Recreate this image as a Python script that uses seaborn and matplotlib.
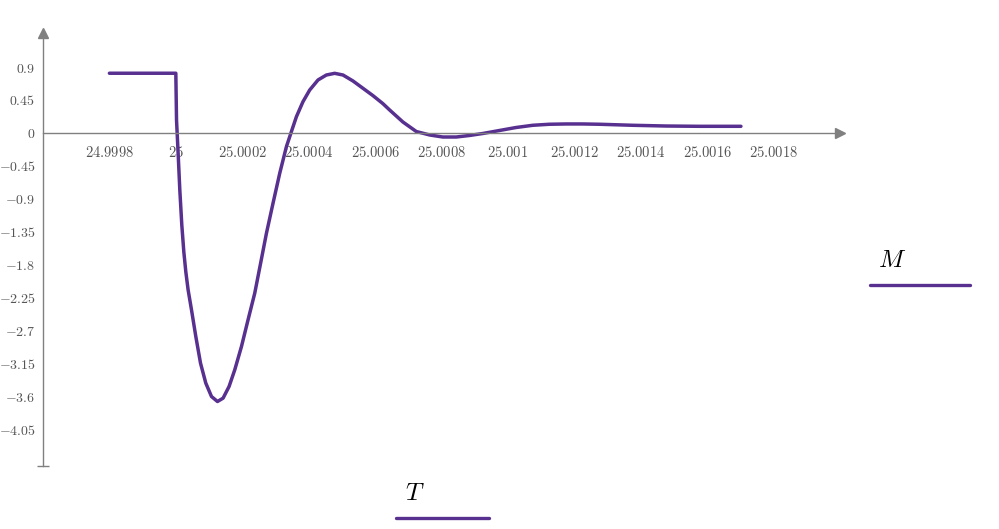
import numpy as np
import pandas as pd
import matplotlib
matplotlib.use("Agg")
import matplotlib.pyplot as plt
from matplotlib.lines import Line2D
import seaborn as sns

# values
T = [24.9998, 25.0, 25.0000021, 25.0000069, 25.000012, 25.000018, 25.0000241,
     25.0000301, 25.000037, 25.0000472, 25.0000602, 25.0000743, 25.0000902,
     25.0001074, 25.0001254, 25.0001423, 25.0001603, 25.0001774, 25.0001976,
     25.0002174, 25.0002376, 25.0002562, 25.0002728, 25.0002926, 25.0003128,
     25.0003329, 25.0003479, 25.000363, 25.0003828, 25.000403, 25.000428,
     25.0004532, 25.0004782, 25.0005032, 25.0005332, 25.0005633, 25.0005934,
     25.0006235, 25.0006436, 25.0006836, 25.0007239, 25.0007639, 25.0008039,
     25.0008442, 25.0008842, 25.0009242, 25.0009744, 25.0010247, 25.0010746,
     25.0011248, 25.001175, 25.001225, 25.0012752, 25.0013754, 25.0014758,
     25.0015759, 25.0017013]
M = [0.815, 0.815, 0.177, -0.273, -0.777, -1.255, -1.623,
     -1.895, -2.141, -2.414, -2.778, -3.14, -3.413,
     -3.596, -3.664, -3.618, -3.459, -3.232, -2.914,
     -2.55, -2.186, -1.755, -1.368, -0.959, -0.55,
     -0.187, 0.018, 0.222, 0.427, 0.586, 0.723,
     0.791, 0.814, 0.791, 0.71, 0.61, 0.51,
     0.4, 0.314, 0.15, 0.02, -0.027, -0.055,
     -0.055, -0.034, -0.007, 0.034, 0.075, 0.105,
     0.119, 0.123, 0.123, 0.119, 0.105, 0.095,
     0.091, 0.091]

x_ticks = [24.9998, 25.0, 25.0002, 25.0004, 25.0006, 25.0008, 25.001,
           25.0012, 25.0014, 25.0016, 25.0018]
x_labels = ["24.9998", "25", "25.0002", "25.0004", "25.0006", "25.0008",
            "25.001", "25.0012", "25.0014", "25.0016", "25.0018"]
y_ticks = [0.9, 0.45, 0, -0.45, -0.9, -1.35, -1.8, -2.25, -2.7, -3.15, -3.6, -4.05]
y_labels = ["0.9", "0.45", "0", "-0.45", "-0.9", "-1.35", "-1.8", "-2.25",
            "-2.7", "-3.15", "-3.6", "-4.05"]

sns.set_theme(style="white")
plt.rcParams["mathtext.fontset"] = "cm"

purple = "#58308f"
axis_col = "#808080"
text_col = "#555555"

df = pd.DataFrame({"T": T, "M": M})

fig = plt.figure(figsize=(9.99, 5.29), dpi=100)
ax = fig.add_axes([0.043, 0.1195, 0.798, 0.8181])

sns.lineplot(data=df, x="T", y="M", sort=False, estimator=None,
             color=purple, lw=2.5, ax=ax, solid_joinstyle="round")

ax.set_xlim(24.9996, 25.002)
ax.set_ylim(-4.541, 1.364)

for s in ["top", "right"]:
    ax.spines[s].set_visible(False)
ax.spines["bottom"].set_position(("data", 0))
ax.spines["bottom"].set_color(axis_col)
ax.spines["left"].set_color(axis_col)
ax.spines["bottom"].set_linewidth(1)
ax.spines["left"].set_linewidth(1)

ax.set_xticks(x_ticks)
ax.set_xticklabels(["$" + l + "$" for l in x_labels])
ax.set_yticks(y_ticks)
ax.set_yticklabels(["$" + l + "$" for l in y_labels])
ax.tick_params(axis="both", direction="inout", length=7, width=1,
               color=axis_col, labelcolor=text_col, labelsize=10, pad=2)
ax.tick_params(axis="x", pad=5, labelsize=10.5)
ax.set_xlabel("")
ax.set_ylabel("")

# arrow heads on the axes
ax.plot(1, 0, ">", color=axis_col, ms=7, transform=ax.get_yaxis_transform(), clip_on=False)
ax.plot(0, 1, "^", color=axis_col, ms=7, transform=ax.transAxes, clip_on=False)
ax.plot(0, 0, "_", color=axis_col, ms=8, mew=1, transform=ax.transAxes, clip_on=False)

# axis names with underline
fig.text(0.879, 0.485, "$M$", fontsize=18, color="black", ha="left", va="bottom")
fig.add_artist(Line2D([0.871, 0.971], [0.4615, 0.4615], color=purple, lw=2.4))
fig.text(0.405, 0.045, "$T$", fontsize=18, color="black", ha="left", va="bottom")
fig.add_artist(Line2D([0.396, 0.489], [0.021, 0.021], color=purple, lw=2.4))

fig.savefig("out.png", dpi=100)
